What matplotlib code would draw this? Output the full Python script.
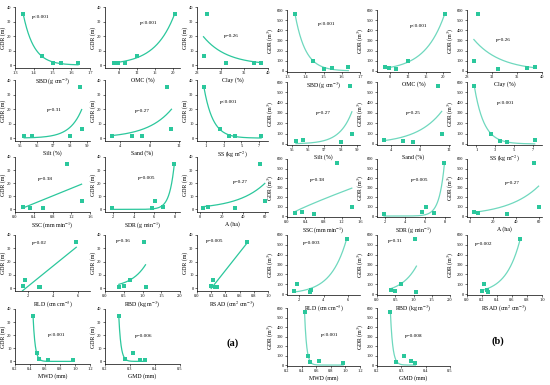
import numpy as np
import matplotlib
matplotlib.use("Agg")
import matplotlib.pyplot as plt

plt.rcParams['font.family'] = ['Liberation Serif', 'DejaVu Serif']
plt.rcParams['mathtext.fontset'] = 'stix'

# ---- data: five sites (A..E) ----
SBD = [1.344, 1.442, 1.503, 1.546, 1.636]
OMC = [20.3, 12.0, 9.3, 7.8, 6.9]
Clay = [29.75, 29.1, 32.9, 37.6, 38.9]
Silt = [58.6, 58.7, 58.0, 55.25, 55.7]
Sand = [10.4, 10.95, 7.0, 5.6, 3.0]
SS = [0.78, 2.56, 4.27, 3.56, 7.22]
SSC = [1.1, 1.42, 0.6, 0.17, 0.32]
SDR = [7.95, 6.07, 1.9, 6.88, 5.74]
Area = [56, 60, 32, 7, 3]
RLD = [5.9, 1.8, 2.9, 1.6, 3.0]
RBD = [1.05, 0.66, 1.08, 0.5, 0.37]
RSAD = [0.71, 0.23, 0.28, 0.20, 0.26]
MWD = [0.44, 0.49, 0.97, 0.52, 0.64]
GMD = [0.255, 0.31, 0.358, 0.28, 0.34]
GDR_len = [35, 6.4, 1.2, 1.6, 1.3]
GDR_vol = [560, 100, 22, 32, 43]

var_names = ["SBD", "OMC", "Clay", "Silt", "Sand", "SS", "SSC", "SDR", "A",
             "RLD", "RBD", "RSAD", "MWD", "GMD"]
var_values = [SBD, OMC, Clay, Silt, Sand, SS, SSC, SDR, Area,
              RLD, RBD, RSAD, MWD, GMD]
x_labels = ["SBD (g cm$^{-3}$)", "OMC (%)", "Clay (%)", "Silt (%)", "Sand (%)",
            "SS (kg m$^{-2}$)", "SSC (mm min$^{-1}$)", "SDR (g min$^{-1}$)", "A (ha)",
            "RLD (cm cm$^{-3}$)", "RBD (kg m$^{-3}$)", "RSAD (cm$^{2}$ cm$^{-3}$)",
            "MWD (mm)", "GMD (mm)"]
x_limits = [(1.3, 1.7), (5, 21.5), (28, 40), (54.7, 59.2), (2, 12.1), (0, 8),
            (0, 1.6), (1.2, 8.5), (-3, 63), (1, 7), (0, 2), (0, 1), (0.2, 1.2), (0.2, 0.5)]
x_ticks = [[1.3, 1.4, 1.5, 1.6, 1.7], [8, 12, 16, 20], [28, 32, 36, 40],
           [55, 56, 57, 58, 59], [4, 8, 12], [1, 3, 5, 7],
           [0.0, 0.4, 0.8, 1.2, 1.6], [2, 4, 6, 8], [0, 20, 40, 60],
           [2, 4, 6], [0.0, 0.5, 1.0, 1.5, 2.0], [0.0, 0.2, 0.4, 0.6, 0.8, 1.0],
           [0.2, 0.4, 0.6, 0.8, 1.0, 1.2], [0.2, 0.3, 0.4, 0.5]]
x_tick_fmt = ["%.1f", "%d", "%d", "%d", "%d", "%d", "%.1f", "%d", "%d", "%d",
              "%.1f", "%.1f", "%.1f", "%.1f"]

p_len = ["p<0.001", "p<0.001", "p=0.26", "p=0.31", "p=0.27", "p<0.001", "p=0.38",
         "p=0.005", "p=0.27", "p=0.02", "p=0.36", "p=0.005", "p<0.001", "p=0.006"]
p_vol = ["p<0.001", "p<0.001", "p=0.26", "p=0.27", "p=0.25", "p<0.001", "p=0.38",
         "p=0.005", "p=0.27", "p=0.003", "p=0.31", "p=0.002", "p<0.001", "p=0.008"]
model_len = ["exp", "exp", "exp", "exp", "exp", "exp", "lin", "exp", "exp",
             "lin", "exp", "lin", "exp", "exp"]
model_vol = ["exp", "exp", "exp", "exp", "exp", "exp", "pow", "exp", "exp",
             "exp", "exp", "exp", "exp", "exp"]

# ---- layout (pixels) ----
W, H = 550, 385
cols_a = [(15, 90), (105, 180), (197, 268)]
rows_a = [(7, 68), (80, 141), (157, 212), (235, 291), (309, 364)]
cols_b = [(287, 360), (377, 450), (467, 542)]
rows_b = [(10, 72), (82, 145), (159, 217), (235, 295), (308, 366)]
ptxt_len = [(0.22, 0.83), (0.47, 0.73), (0.38, 0.52), (0.42, 0.5), (0.4, 0.49),
            (0.33, 0.64), (0.31, 0.6), (0.44, 0.62), (0.5, 0.55), (0.23, 0.85),
            (0.14, 0.9), (0.12, 0.9), (0.44, 0.52), (0.4, 0.5)]
ptxt_vol = [(0.43, 0.78), (0.45, 0.74), (0.38, 0.52), (0.4, 0.51), (0.4, 0.51),
            (0.4, 0.66), (0.31, 0.64), (0.46, 0.64), (0.5, 0.58), (0.22, 0.86),
            (0.15, 0.9), (0.11, 0.85), (0.46, 0.54), (0.38, 0.52)]


def fit_curve(x, y, model):
    x = np.asarray(x, float)
    y = np.asarray(y, float)
    xs = np.linspace(x.min(), x.max(), 300)
    if model == "lin":
        k, b0 = np.polyfit(x, y, 1)
        return xs, k * xs + b0
    if model == "pow":
        best = None
        for b in np.linspace(-5, 5, 4001):
            e = x ** b
            a = (y * e).sum() / (e * e).sum()
            sse = ((y - a * e) ** 2).sum()
            if best is None or sse < best[0]:
                best = (sse, a, b)
        return xs, best[1] * xs ** best[2]
    # exp: y = a * exp(b * t), t normalised
    x0, span = x.min(), x.max() - x.min()
    t = (x - x0) / span
    best = None
    for b in np.linspace(-40, 40, 16001):
        e = np.exp(b * t)
        a = (y * e).sum() / (e * e).sum()
        sse = ((y - a * e) ** 2).sum()
        if best is None or sse < best[0]:
            best = (sse, a, b)
    ts = (xs - x0) / span
    return xs, best[1] * np.exp(best[2] * ts)


def panel(positions, yvals, ylim, yticks, ylabel, ptexts, models, pt_pos, color, lcolor):
    for i, (xv, pos) in enumerate(zip(var_values, positions)):
        (l, r), (t, b) = pos
        ax = fig.add_axes([l / W, 1 - b / H, (r - l) / W, (b - t) / H])
        ax.set_facecolor('none')
        xs, ys = fit_curve(xv, yvals, models[i])
        ax.plot(xs, ys, color=lcolor, lw=0.9, zorder=2)
        ax.scatter(xv, yvals, s=8, color=color, marker='s', zorder=3, linewidths=0)
        ax.set_xlim(*x_limits[i])
        ax.set_ylim(*ylim)
        ax.set_xticks(x_ticks[i])
        ax.set_xticklabels([x_tick_fmt[i] % v for v in x_ticks[i]])
        ax.set_yticks(yticks)
        for s in ["top", "right"]:
            ax.spines[s].set_visible(False)
        for s in ["left", "bottom"]:
            ax.spines[s].set_linewidth(0.5)
        ax.tick_params(labelsize=3.2, length=1.5, width=0.4, pad=1)
        ax.set_xlabel(x_labels[i], fontsize=4.2, labelpad=1)
        ax.set_ylabel(ylabel, fontsize=4.2, labelpad=1)
        ax.text(pt_pos[i][0], pt_pos[i][1], ptexts[i], transform=ax.transAxes,
                fontsize=3.8, ha='left', va='center')


fig = plt.figure(figsize=(5.5, 3.85), dpi=100)

pos_a = [(cols_a[c], rows_a[r]) for r in range(5) for c in range(3)][:14]
pos_b = [(cols_b[c], rows_b[r]) for r in range(5) for c in range(3)][:14]

panel(pos_a, GDR_len, (-2, 40), [0, 10, 20, 30, 40], "GDR (m)", p_len, model_len,
      ptxt_len, "#2BC79C", "#2BC79C")
panel(pos_b, GDR_vol, (-10, 600), [0, 100, 200, 300, 400, 500, 600], "GDR (m$^{3}$)",
      p_vol, model_vol, ptxt_vol, "#2BC79C", "#6FD8BE")

fig.text(233 / W, 1 - 343 / H, "(a)", fontsize=7.5, fontweight='bold', ha='center', va='center')
fig.text(498 / W, 1 - 341 / H, "(b)", fontsize=7.5, fontweight='bold', ha='center', va='center')

fig.savefig("out.png", dpi=100)
